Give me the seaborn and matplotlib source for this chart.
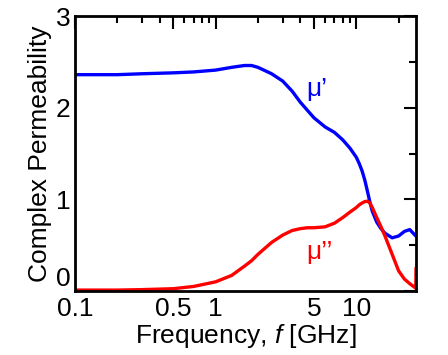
import matplotlib
matplotlib.use("Agg")
import pandas as pd
import matplotlib.pyplot as plt
import seaborn as sns
from matplotlib.ticker import FixedLocator, NullFormatter

sns.set_style("white")
plt.rcParams["font.family"] = ["Liberation Sans", "DejaVu Sans"]
plt.rcParams["mathtext.fontset"] = "custom"
plt.rcParams["mathtext.it"] = "Liberation Sans:italic"
plt.rcParams["mathtext.rm"] = "Liberation Sans"
plt.rcParams["text.color"] = "black"
plt.rcParams["axes.labelcolor"] = "black"
plt.rcParams["xtick.color"] = "black"
plt.rcParams["ytick.color"] = "black"

# values
freq = [0.1, 0.2, 0.3, 0.5, 0.7, 1.0, 1.3, 1.6, 1.8, 2.0, 2.5, 3.0, 3.5, 4.0, 4.5, 5.0,
        6.0, 7.0, 8.0, 9.0, 10.0, 10.5, 11.0, 11.5, 12.0, 12.5, 13.0, 14.0, 15.0, 16.0,
        18.0, 20.0, 22.0, 24.0, 26.5]
mu_real = [2.36, 2.36, 2.37, 2.38, 2.39, 2.41, 2.44, 2.46, 2.46, 2.44, 2.37, 2.29, 2.18,
           2.06, 1.97, 1.89, 1.79, 1.73, 1.65, 1.56, 1.46, 1.39, 1.31, 1.21, 1.09, 0.97,
           0.87, 0.75, 0.68, 0.63, 0.58, 0.60, 0.65, 0.67, 0.60]
freq_imag = freq + [26.6]
mu_imag = [0.01, 0.01, 0.015, 0.025, 0.05, 0.10, 0.17, 0.27, 0.33, 0.40, 0.53, 0.61, 0.66,
           0.68, 0.69, 0.69, 0.70, 0.74, 0.80, 0.86, 0.91, 0.94, 0.96, 0.975, 0.98, 0.96,
           0.91, 0.80, 0.70, 0.60, 0.40, 0.22, 0.13, 0.08, 0.03, 0.25]

xtick_vals = [0.1, 0.5, 1, 5, 10]
xtick_labels = ["0.1", "0.5", "1", "5", "10"]
ytick_vals = [0, 1, 2, 3]

real_df = pd.DataFrame({"f": freq, "mu": mu_real})
imag_df = pd.DataFrame({"f": freq_imag, "mu": mu_imag})

fig = plt.figure(figsize=(4.48, 3.55), dpi=100)
ax = fig.add_axes([0.1674, 0.1803, 0.7612, 0.7746])

sns.lineplot(data=real_df, x="f", y="mu", color="#0000ff", linewidth=2.4, ax=ax)
sns.lineplot(data=imag_df, x="f", y="mu", color="#ff0000", linewidth=2.4, ax=ax)

ax.set_xscale("log")
ax.set_xlim(0.1, 26.6)
ax.set_ylim(0, 3)

ax.xaxis.set_major_locator(FixedLocator(xtick_vals))
ax.set_xticklabels(xtick_labels)
minor_x = [m * d for d in (0.1, 1, 10) for m in range(2, 10) if m != 5 and m * d < 26.6]
ax.xaxis.set_minor_locator(FixedLocator(minor_x))
ax.xaxis.set_minor_formatter(NullFormatter())
ax.yaxis.set_major_locator(FixedLocator(ytick_vals))
ax.yaxis.set_minor_locator(FixedLocator([0.5, 1.5, 2.5]))

ax.tick_params(which="both", direction="in", top=True, right=True, width=1.5,
               labelsize=19)
ax.tick_params(axis="x", pad=4)
ax.tick_params(axis="y", pad=3)
ax.tick_params(which="major", length=9)
ax.tick_params(which="minor", length=5)
for s in ax.spines.values():
    s.set_linewidth(2)
    s.set_color("black")

# lift the "0" on the y axis so it clears the "0.1" below it
ax.get_yticklabels()[0].set_verticalalignment("bottom")
ax.get_yticklabels()[-1].set_verticalalignment("center_baseline")

ax.set_xlabel("Frequency, $\\it{f}$ [GHz]", fontsize=19, labelpad=1)
ax.set_ylabel("Complex Permeability", fontsize=19, labelpad=3)

ax.text(4.4, 2.2, "μ’", color="#0000ff", fontsize=19, ha="left", va="center")
ax.text(4.4, 0.43, "μ’’", color="#ff0000", fontsize=19, ha="left", va="center")

plt.savefig("out.png", dpi=100)
